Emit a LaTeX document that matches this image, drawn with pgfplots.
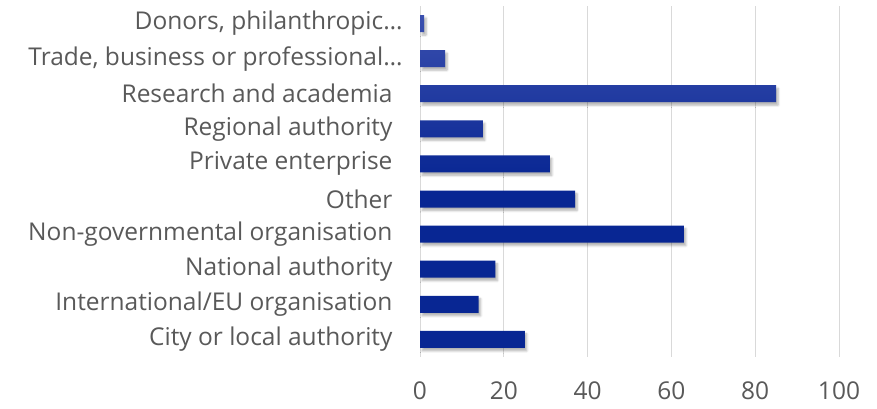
\documentclass[border=0pt]{standalone}
\usepackage{pgfplots}
\pgfplotsset{compat=1.18}
\usepackage{fontspec}
\setmainfont{Open Sans}
\usetikzlibrary{shadows.blur}
\definecolor{txt}{HTML}{595959}
\definecolor{grd}{HTML}{D9D9D9}
\definecolor{bartop}{HTML}{3A4FAE}
\definecolor{barbot}{HTML}{082693}
\begin{document}
\begin{tikzpicture}
\useasboundingbox (0,0) rectangle (877pt,409pt);
\begin{axis}[
  at={(420pt,52pt)}, anchor=south west,
  scale only axis, width=419pt, height=351pt,
  xmin=0, xmax=100, ymin=-0.5, ymax=9.5,
  xtick={0,20,...,100},
  ytick={0,...,9},
  yticklabels={City or local authority, International/EU organisation, National authority, Non-governmental organisation, Other, Private enterprise, Regional authority, Research and academia, {Trade, business or professional…\kern-10pt}, {Donors, philanthropic…\kern-10pt}},
  xmajorgrids, major grid style={grd, line width=1pt},
  axis x line*=bottom, axis y line*=left,
  x axis line style={draw=none},
  y axis line style={grd, line width=1pt},
  major tick length=0pt,
  tick label style={font=\fontsize{24.5}{27}\selectfont, text=txt},
  yticklabel style={xshift=-24pt},
  xticklabel style={yshift=-21pt},
  /pgf/number format/assume math mode=true,
  clip=false,
]
\addplot[xbar, bar width=17pt, draw=none, top color=bartop, bottom color=barbot, middle color=barbot,
  blur shadow={shadow xshift=2pt, shadow yshift=-3pt, shadow blur steps=6, shadow opacity=30}]
  coordinates {(25,0) (14,1) (18,2) (63,3) (37,4) (31,5) (15,6) (85,7) (6,8) (1,9)};
\end{axis}
\end{tikzpicture}
\end{document}
